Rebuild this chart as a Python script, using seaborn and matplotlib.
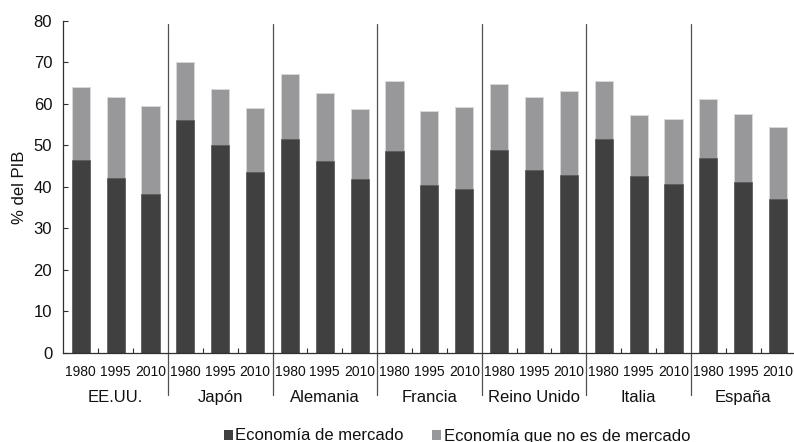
import matplotlib
matplotlib.use("Agg")
import matplotlib.pyplot as plt
from matplotlib.patches import Patch
from matplotlib.lines import Line2D
from matplotlib.ticker import FixedLocator
import seaborn as sns
import pandas as pd

sns.set_theme(style="white")
plt.rcParams["font.family"] = ["Liberation Sans", "DejaVu Sans"]

countries = ["EE.UU.", "Japón", "Alemania", "Francia", "Reino Unido", "Italia", "España"]
years = ["1980", "1995", "2010"]

# % del PIB, one value per country and year (in the order above)
mercado = [46.4, 42.1, 38.3,
           56.0, 50.1, 43.6,
           51.5, 46.2, 41.8,
           48.6, 40.4, 39.6,
           48.9, 44.0, 42.8,
           51.5, 42.6, 40.7,
           46.9, 41.2, 37.2]
no_mercado = [17.7, 19.5, 21.3,
              14.0, 13.4, 15.5,
              15.6, 16.4, 16.9,
              17.0, 17.8, 19.6,
              15.9, 17.7, 20.4,
              13.9, 14.8, 15.6,
              14.2, 16.3, 17.2]

dark = "#404040"
light = "#97989b"

rows = []
for i, c in enumerate(countries):
    for j, y in enumerate(years):
        k = i * len(years) + j
        rows.append({"slot": f"{c} {y}", "year": y, "country": c,
                     "mercado": mercado[k],
                     "total": mercado[k] + no_mercado[k]})
df = pd.DataFrame(rows)
order = list(df["slot"])

W, H = 794, 442
fig = plt.figure(figsize=(W / 100, H / 100), dpi=100)
x0, x1 = 63.3, 795.5
y0, y1 = 353.0, 20.8
ax = fig.add_axes([x0 / W, (H - y0) / H, (x1 - x0) / W, (y0 - y1) / H])

# stacked bars: the full height in light grey, the market share on top in dark grey
sns.barplot(data=df, x="slot", y="total", order=order, color=light,
            width=0.52, edgecolor="#d8d8d8", linewidth=0.7, ax=ax)
sns.barplot(data=df, x="slot", y="mercado", order=order, color=dark,
            width=0.52, edgecolor="#5a5a5a", linewidth=0.5, ax=ax)
for p in ax.patches:
    p.set_alpha(1)

n = len(order)
ax.set_xlim(-0.5, n - 0.5)
ax.set_ylim(0, 80)
ax.set_yticks(range(0, 81, 10))
ax.tick_params(axis="y", direction="in", length=3.6, width=0.8,
               color="#303030", labelsize=12, pad=8, left=True)
for t in ax.get_yticklabels():
    t.set_color("#111111")

ax.set_xticks(range(n))
ax.set_xticklabels([r["year"] for r in rows])
ax.tick_params(axis="x", which="major", length=0, labelsize=10, pad=8.5)
for t in ax.get_xticklabels():
    t.set_color("#111111")
minor = [g * 3 + b - 0.5 for g in range(len(countries)) for b in (1, 2)]
ax.xaxis.set_minor_locator(FixedLocator(minor))
ax.tick_params(axis="x", which="minor", direction="in", length=3.6,
               width=0.8, color="#303030", bottom=True)

ax.set_xlabel("")
ax.set_ylabel("% del PIB", fontsize=12, color="#111111", labelpad=5)

for s in ("top", "right"):
    ax.spines[s].set_visible(False)
for s in ("left", "bottom"):
    ax.spines[s].set_color("#303030")
    ax.spines[s].set_linewidth(0.9)

# group separators and country names
for g in range(1, len(countries)):
    xs = g * 3 - 0.5
    ax.add_line(Line2D([xs, xs], [-0.126, 0.99], color="#505050", lw=0.9,
                       transform=ax.get_xaxis_transform(), clip_on=False))
for g, c in enumerate(countries):
    ax.text(g * 3 + 1, -0.1325, c, transform=ax.get_xaxis_transform(),
            ha="center", va="center", fontsize=12, color="#111111")

handles = [Patch(facecolor=dark, edgecolor="none", label="Economía de mercado"),
           Patch(facecolor=light, edgecolor="none", label="Economía que no es de mercado")]
fig.legend(handles=handles, loc="center", bbox_to_anchor=(457 / W, (H - 436) / H),
           ncol=2, frameon=False, fontsize=12, handlelength=0.55, handleheight=0.55,
           handletextpad=0.15, columnspacing=1.7, labelcolor="#111111")

fig.savefig("out.png", dpi=100)
